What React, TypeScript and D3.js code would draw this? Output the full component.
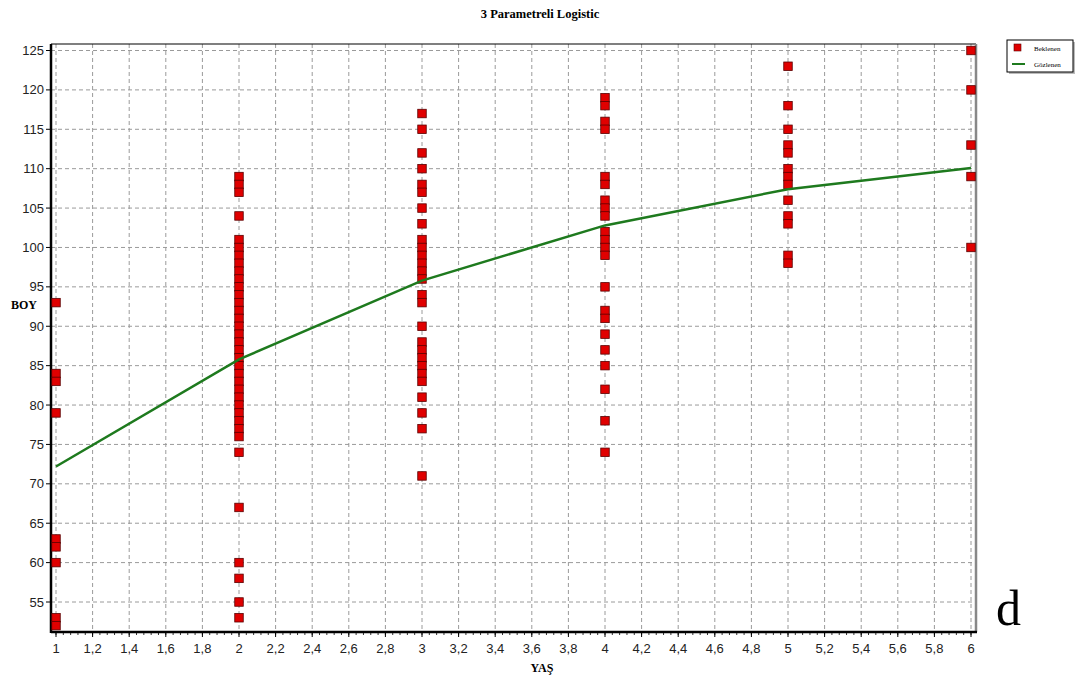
import React from "react";
import * as d3 from "d3";

const title = "3 Parametreli Logistic";
const xLabel = "YAŞ";
const yLabel = "BOY";
const seriesObserved = "Beklenen";
const seriesFitted = "Gözlenen";

const xTicks = [1, 1.2, 1.4, 1.6, 1.8, 2, 2.2, 2.4, 2.6, 2.8, 3, 3.2, 3.4, 3.6, 3.8, 4, 4.2, 4.4, 4.6, 4.8, 5, 5.2, 5.4, 5.6, 5.8, 6];
const yTicks = [55, 60, 65, 70, 75, 80, 85, 90, 95, 100, 105, 110, 115, 120, 125];

const age1 = [93, 84, 83, 79, 63, 62, 60, 53, 52];
const age2 = [109, 108, 107, 104, 101, 100, 99, 98, 97, 96, 95, 94, 93, 92, 91, 90, 89, 88, 87, 86, 85, 84, 83, 82, 81, 80, 79, 78, 77, 76, 74, 67, 60, 58, 55, 53];
const age3 = [117, 115, 112, 110, 108, 107, 105, 103, 101, 100, 99, 98, 97, 96, 94, 93, 90, 88, 87, 86, 85, 84, 83, 81, 79, 77, 71];
const age4 = [119, 118, 116, 115, 109, 108, 106, 105, 104, 102, 101, 100, 99, 95, 92, 91, 89, 87, 85, 82, 78, 74];
const age5 = [123, 118, 115, 113, 112, 110, 109, 108, 106, 104, 103, 99, 98];
const age6 = [125, 120, 113, 109, 100];

const fitAges = [1, 2, 3, 4, 5, 6];
const fitValues = [72.2, 85.8, 95.8, 102.8, 107.4, 110.1];

const groups: [number, number[]][] = [
  [1, age1],
  [2, age2],
  [3, age3],
  [4, age4],
  [5, age5],
  [6, age6],
];

export default function App() {
  const W = 1078;
  const H = 679;
  const plot = { left: 51, right: 976, top: 44, bottom: 632 };
  const x = d3.scaleLinear().domain([1, 6]).range([56, 971]);
  const y = d3.scaleLinear().domain([55, 125]).range([602, 50.5]);

  const points = groups.flatMap(([a, vals]) => vals.map((v) => ({ a, v })));
  const line = d3
    .line<number>()
    .x((_, i) => x(fitAges[i]))
    .y((d) => y(d));

  const minor = d3.range(1, 6.001, 0.04).map((v) => +v.toFixed(2));
  const sq = 8.5;
  const sans = "'Liberation Sans', Arial, sans-serif";
  const serif = "'Liberation Serif', 'Times New Roman', serif";

  return (
    <svg width={W} height={H} style={{ position: "absolute", left: 0, top: 0, background: "#fff" }}>
      <rect x={0} y={0} width={W} height={H} fill="#fff" />
      <text x={540} y={18} textAnchor="middle" fontFamily={serif} fontWeight="bold" fontSize={12.5}>
        {title}
      </text>

      {/* grid */}
      {xTicks.map((t) => (
        <line key={"gx" + t} x1={x(t)} x2={x(t)} y1={plot.top} y2={plot.bottom} stroke="#9a9a9a" strokeDasharray="4,3" strokeWidth={1} />
      ))}
      {yTicks.map((t) => (
        <line key={"gy" + t} x1={plot.left} x2={plot.right} y1={y(t)} y2={y(t)} stroke="#9a9a9a" strokeDasharray="4,3" strokeWidth={1} />
      ))}

      {/* borders */}
      <line x1={plot.left} x2={plot.right} y1={plot.top} y2={plot.top} stroke="#000" strokeWidth={1.2} />
      <line x1={plot.right} x2={plot.right} y1={plot.top} y2={plot.bottom} stroke="#888" strokeWidth={2.5} />
      <line x1={plot.left} x2={plot.left} y1={plot.top} y2={plot.bottom + 1} stroke="#000" strokeWidth={2.5} />
      <line x1={plot.left} x2={plot.right + 1} y1={plot.bottom} y2={plot.bottom} stroke="#000" strokeWidth={2.5} />

      {/* x ticks */}
      {minor.map((t) => (
        <line key={"mx" + t} x1={x(t)} x2={x(t)} y1={plot.bottom} y2={plot.bottom + 3} stroke="#000" strokeWidth={0.8} />
      ))}
      {xTicks.map((t) => (
        <g key={"tx" + t}>
          <line x1={x(t)} x2={x(t)} y1={plot.bottom} y2={plot.bottom + 5} stroke="#000" strokeWidth={1} />
          <text x={x(t)} y={653} textAnchor="middle" fontFamily={sans} fontSize={13} fill="#222">
            {String(t).replace(".", ",")}
          </text>
        </g>
      ))}

      {/* y ticks */}
      {yTicks.map((t) => (
        <g key={"ty" + t}>
          <line x1={plot.left - 5} x2={plot.left} y1={y(t)} y2={y(t)} stroke="#000" strokeWidth={1} />
          <text x={44} y={y(t) + 4.5} textAnchor="end" fontFamily={sans} fontSize={13} fill="#222">
            {t}
          </text>
        </g>
      ))}

      <text x={11} y={309} fontFamily={serif} fontWeight="bold" fontSize={12}>
        {yLabel}
      </text>
      <text x={542} y={672} textAnchor="middle" fontFamily={serif} fontWeight="bold" fontSize={12}>
        {xLabel}
      </text>

      {/* observed points */}
      {points.map((p, i) => (
        <rect
          key={"p" + i}
          x={x(p.a) - sq / 2}
          y={y(p.v) - sq / 2}
          width={sq}
          height={sq}
          fill="#e00000"
          stroke="#5a0000"
          strokeWidth={0.8}
        />
      ))}

      {/* fitted line */}
      <path d={line(fitValues) || ""} fill="none" stroke="#1e7a1e" strokeWidth={2.5} />

      {/* legend */}
      <rect x={1009} y={42} width={66} height={32} fill="#bbb" />
      <rect x={1007} y={40} width={66} height={32} fill="#fff" stroke="#000" strokeWidth={1} />
      <rect x={1014} y={44} width={7} height={7} fill="#e00000" stroke="#5a0000" strokeWidth={0.6} />
      <text x={1034} y={50.5} fontFamily={serif} fontSize={7}>
        {seriesObserved}
      </text>
      <line x1={1012} x2={1025} y1={64} y2={64} stroke="#1e7a1e" strokeWidth={2} />
      <text x={1034} y={66.5} fontFamily={serif} fontSize={7}>
        {seriesFitted}
      </text>

      <text x={996} y={625} fontFamily={serif} fontSize={50}>
        d
      </text>
    </svg>
  );
}
